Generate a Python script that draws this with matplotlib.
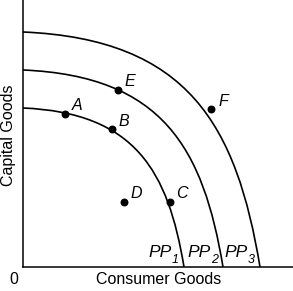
import numpy as np
import matplotlib.pyplot as plt
from matplotlib.path import Path
from matplotlib.patches import PathPatch

plt.rcParams['font.family'] = 'Liberation Sans'

# frontier intercepts (consumer, capital)
curve_names = ['PP', 'PP', 'PP']
curve_subs = ['1', '2', '3']
x_intercepts = [161, 200, 237]
y_intercepts = [159, 197, 235]
# bezier shape: top handle share, top handle drop, lower handle height share, end steepness
top_handle = 0.7
top_drop = 0.97
low_handle = 0.6
end_slope = 6.0

# labelled points
point_names = ['A', 'B', 'C', 'D', 'E', 'F']
point_x = [42, 89, 147, 101, 95, 188]
point_y = [153, 138, 65, 65, 177, 158]

fig = plt.figure(figsize=(2.93, 2.91), dpi=100, facecolor='white')
ax = fig.add_axes([23 / 293, 24 / 291, 270 / 293, 267 / 291])
ax.set_xlim(0, 270)
ax.set_ylim(0, 267)

for name, sub, a, b in zip(curve_names, curve_subs, x_intercepts, y_intercepts):
    h = low_handle * b
    verts = [(0, b), (top_handle * a, top_drop * b), (a - h / end_slope, h), (a, 0)]
    codes = [Path.MOVETO, Path.CURVE4, Path.CURVE4, Path.CURVE4]
    ax.add_patch(PathPatch(Path(verts, codes), facecolor='none',
                           edgecolor='black', lw=1.2))
    ax.text(a - 12, 10, name, fontsize=12.5, style='italic',
            ha='right', va='baseline')
    ax.text(a - 12, 4, sub, fontsize=9, style='italic',
            ha='left', va='baseline')

ax.scatter(point_x, point_y, s=22, color='black', zorder=3)
for name, x, y in zip(point_names, point_x, point_y):
    ax.annotate(name, (x, y), xytext=(12, 8), textcoords='offset pixels',
                fontsize=11.5, style='italic', ha='center', va='center')

for side in ['top', 'right']:
    ax.spines[side].set_visible(False)
for side in ['left', 'bottom']:
    ax.spines[side].set_linewidth(1.1)
ax.set_xticks([])
ax.set_yticks([])

fig.text(14 / 293, 1 - 280 / 291, '0', fontsize=11.5, ha='center', va='center')
fig.text(159 / 293, 1 - 280 / 291, 'Consumer Goods', fontsize=11.5,
         ha='center', va='center')
fig.text(9 / 293, 1 - 135 / 291, 'Capital Goods', fontsize=11.5,
         ha='center', va='center', rotation=90)

plt.savefig('out.png', dpi=100)
